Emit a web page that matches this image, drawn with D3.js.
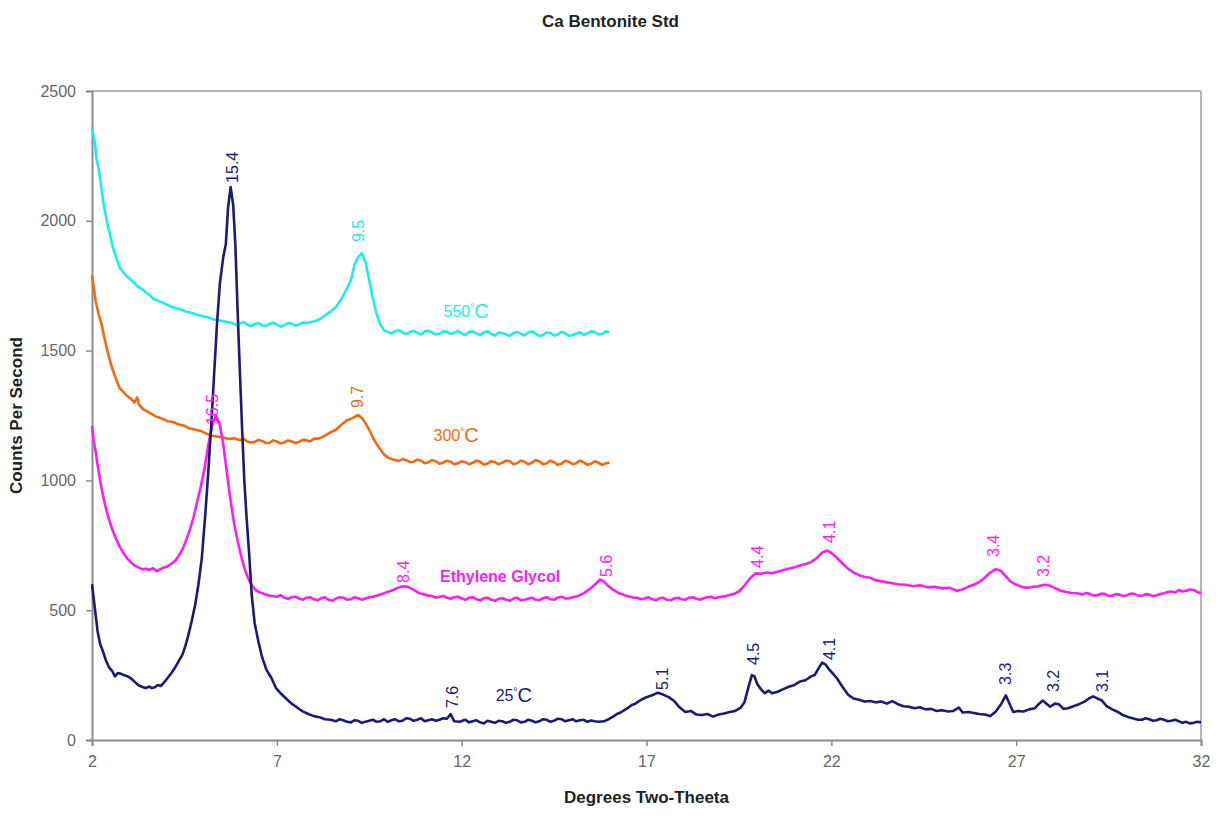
<!DOCTYPE html>
<html>
<head>
<meta charset="utf-8">
<script src="https://cdn.jsdelivr.net/npm/d3@7"></script>
<style>
  body { margin: 0; background: #fff; }
  text { font-family: Arial, "Liberation Sans", sans-serif; }
</style>
</head>
<body>
<svg id="chart"></svg>
<script>
// 2-theta (deg), counts per second
var s25 = [
  [2.00,600],[2.05,540],[2.10,480],[2.15,420],[2.22,370],[2.30,340],[2.38,305],[2.46,280],[2.55,265],[2.62,245],
  [2.70,258],[2.78,255],[2.86,250],[2.95,246],[3.05,238],[3.15,225],[3.25,212],[3.35,205],[3.45,200],[3.55,206],
  [3.62,200],[3.70,203],[3.78,212],[3.86,208],[3.95,222],[4.05,240],[4.15,258],[4.25,280],[4.35,305],[4.45,330],
  [4.52,360],[4.60,400],[4.70,460],[4.79,520],[4.88,600],[4.97,700],[5.06,860],[5.14,1020],[5.22,1200],[5.30,1400],
  [5.38,1600],[5.46,1760],[5.55,1860],[5.62,1910],[5.68,2050],[5.75,2130],[5.82,2060],[5.88,1900],[5.94,1650],[6.00,1420],
  [6.06,1200],[6.12,1000],[6.18,860],[6.25,720],[6.32,560],[6.40,450],[6.50,380],[6.60,320],[6.72,270],[6.85,240],
  [6.98,200],[7.10,180],[7.25,160],[7.40,140],[7.55,125],[7.70,110],[7.85,100],[8.00,92],[8.15,88],[8.30,80],
  [8.45,78],[8.60,72],[8.70,80],[8.80,76],[8.90,70],[9.00,68],[9.10,76],[9.20,74],[9.30,66],[9.40,70],[9.50,74],[9.60,78],[9.70,70],[9.80,72],[9.90,80],[10.00,70],[10.10,76],[10.20,80],
  [10.30,72],[10.40,74],[10.50,84],[10.60,82],[10.70,74],[10.80,78],[10.90,84],[11.00,72],[11.10,76],[11.20,80],[11.30,74],[11.40,78],[11.50,84],[11.60,82],[11.70,100],[11.80,72],[11.95,70],
  [12.05,76],[12.10,78],[12.20,68],[12.30,72],[12.40,76],[12.50,68],[12.60,64],[12.70,74],[12.80,70],[12.90,66],[13.00,74],[13.10,72],[13.20,66],[13.30,70],[13.40,78],[13.50,76],[13.60,68],[13.70,70],[13.80,78],[13.90,74],
  [14.00,68],[14.10,72],[14.20,80],[14.30,78],[14.40,70],[14.50,74],[14.60,82],[14.70,80],[14.80,72],[14.90,76],[15.00,80],[15.10,72],[15.20,76],[15.30,78],[15.40,70],[15.50,75],[15.60,72],[15.70,70],[15.85,72],
  [16.00,82],[16.10,90],[16.20,100],[16.30,106],[16.40,115],[16.50,124],[16.60,135],[16.70,140],[16.80,150],[16.90,158],[17.00,165],[17.15,172],[17.30,182],[17.45,175],[17.60,165],
  [17.75,150],[17.90,125],[18.05,108],[18.20,112],[18.35,98],[18.50,96],[18.65,100],[18.80,90],[18.95,98],[19.10,102],
  [19.25,108],[19.40,112],[19.55,125],[19.65,145],[19.75,200],[19.85,250],[19.92,245],[20.00,215],[20.10,195],[20.20,180],
  [20.30,190],[20.40,180],[20.55,186],[20.70,196],[20.85,205],[21.00,212],[21.15,225],[21.30,230],[21.45,245],[21.55,250],
  [21.65,275],[21.75,298],[21.85,290],[21.95,270],[22.05,255],[22.15,238],[22.30,205],[22.45,175],[22.60,160],[22.75,155],
  [22.90,148],[23.05,150],[23.20,145],[23.35,148],[23.50,140],[23.65,150],[23.80,138],[23.95,130],[24.10,128],[24.25,122],
  [24.40,126],[24.55,118],[24.70,120],[24.85,112],[25.00,115],[25.15,110],[25.30,112],[25.45,125],[25.55,106],[25.70,108],
  [25.85,104],[26.00,100],[26.15,98],[26.30,92],[26.45,110],[26.60,140],[26.72,172],[26.82,140],[26.92,108],[27.05,112],
  [27.20,110],[27.35,118],[27.50,122],[27.62,140],[27.72,152],[27.82,140],[27.92,128],[28.05,140],[28.15,138],[28.28,120],
  [28.40,122],[28.55,130],[28.70,138],[28.85,148],[28.97,160],[29.08,168],[29.20,160],[29.32,152],[29.45,130],[29.60,118],
  [29.75,108],[29.90,95],[30.05,88],[30.20,82],[30.30,78],[30.40,78],[30.50,84],[30.60,80],[30.70,74],[30.80,76],[30.90,82],[31.00,78],[31.10,72],[31.20,74],[31.30,78],[31.40,72],
  [31.50,66],[31.60,70],[31.70,64],[31.80,66],[31.90,70],[32.00,68]
];

var sGlycol = [
  [2.00,1210],[2.05,1150],[2.10,1110],[2.15,1060],[2.22,1000],[2.30,940],[2.38,890],[2.46,850],[2.55,810],[2.65,775],
  [2.75,745],[2.85,720],[2.95,700],[3.05,685],[3.15,672],[3.25,665],[3.35,658],[3.45,660],[3.55,655],[3.65,662],
  [3.75,650],[3.85,658],[3.95,665],[4.05,668],[4.15,680],[4.25,690],[4.35,710],[4.45,735],[4.55,770],[4.65,810],
  [4.75,860],[4.85,920],[4.95,980],[5.05,1050],[5.15,1140],[5.25,1210],[5.35,1250],[5.45,1220],[5.55,1140],[5.65,1030],
  [5.75,920],[5.85,830],[5.95,760],[6.05,700],[6.15,650],[6.25,615],[6.35,590],[6.45,575],[6.55,568],[6.70,560],
  [6.85,555],[7.00,552],[7.10,558],[7.20,548],[7.30,544],[7.40,550],[7.50,552],[7.60,545],[7.70,540],[7.80,548],[7.90,550],[8.00,542],[8.10,538],[8.20,546],[8.30,550],[8.40,540],[8.50,536],[8.60,545],
  [8.70,550],[8.80,548],[8.90,540],[9.00,542],[9.10,550],[9.20,546],[9.30,540],[9.40,545],[9.50,550],[9.60,552],[9.70,556],[9.80,560],[9.95,568],[10.10,575],[10.25,585],[10.40,592],
  [10.55,590],[10.70,578],[10.85,566],[11.00,560],[11.10,556],[11.20,555],[11.30,548],[11.40,552],[11.50,555],[11.60,548],[11.70,544],[11.80,550],[11.90,552],[12.00,545],[12.10,540],[12.20,548],
  [12.30,550],[12.40,542],[12.50,538],[12.60,546],[12.70,548],[12.80,540],[12.90,536],[13.00,544],[13.10,546],[13.20,540],[13.30,536],[13.40,545],[13.50,548],[13.60,538],[13.70,540],[13.80,544],[13.90,548],[14.00,540],[14.10,538],[14.20,546],
  [14.30,550],[14.40,542],[14.50,540],[14.60,548],[14.70,552],[14.80,545],[14.90,546],[15.00,550],[15.15,555],[15.30,565],[15.45,580],[15.60,598],[15.75,618],[15.85,610],
  [15.95,595],[16.10,578],[16.25,566],[16.40,558],[16.55,552],[16.65,548],[16.75,548],[16.85,542],[16.95,545],[17.05,550],[17.15,542],[17.25,538],[17.35,546],[17.45,548],[17.55,540],
  [17.65,538],[17.75,545],[17.85,548],[17.95,542],[18.05,540],[18.15,548],[18.25,550],[18.35,544],[18.45,540],[18.55,546],[18.65,550],[18.75,552],[18.85,546],[18.95,550],[19.15,555],[19.35,562],[19.50,572],
  [19.65,595],[19.80,622],[19.95,642],[20.10,640],[20.25,645],[20.40,642],[20.55,648],[20.70,655],[20.85,660],[21.00,665],
  [21.15,672],[21.30,678],[21.45,685],[21.60,700],[21.75,722],[21.90,730],[22.00,720],[22.15,702],[22.30,680],[22.45,660],
  [22.60,645],[22.75,635],[22.90,628],[23.05,625],[23.20,615],[23.40,610],[23.60,605],[23.80,600],[24.00,598],[24.20,592],
  [24.40,596],[24.60,588],[24.80,590],[25.00,584],[25.20,586],[25.40,575],[25.55,580],[25.70,590],[25.85,598],[26.00,608],
  [26.15,625],[26.30,645],[26.45,658],[26.58,652],[26.72,630],[26.85,610],[27.00,598],[27.15,590],[27.30,586],[27.45,590],
  [27.60,592],[27.75,598],[27.90,595],[28.05,585],[28.20,575],[28.35,570],[28.50,566],[28.65,565],[28.80,560],[28.90,566],[29.00,562],
  [29.10,556],[29.20,558],[29.30,564],[29.40,562],[29.50,555],[29.60,556],[29.70,562],[29.80,560],[29.90,554],[30.00,558],[30.10,564],[30.20,562],[30.30,556],[30.40,555],[30.50,562],[30.60,560],[30.70,554],[30.80,558],[30.90,562],[31.00,565],
  [31.10,570],[31.20,572],[31.30,568],[31.40,578],[31.50,572],[31.60,575],[31.70,580],[31.80,578],[31.90,570],[32.00,565]
];

var s300 = [
  [2.00,1790],[2.05,1740],[2.10,1690],[2.18,1640],[2.26,1600],[2.35,1540],[2.45,1480],[2.55,1430],[2.65,1390],[2.75,1355],
  [2.85,1340],[2.95,1325],[3.05,1315],[3.15,1300],[3.22,1320],[3.28,1290],[3.38,1275],[3.50,1265],[3.62,1255],[3.75,1245],
  [3.90,1238],[4.05,1228],[4.20,1225],[4.35,1215],[4.50,1210],[4.65,1200],[4.80,1195],[4.95,1190],[5.10,1180],[5.25,1172],
  [5.40,1168],[5.55,1165],[5.70,1160],[5.85,1162],[6.00,1155],[6.10,1160],[6.20,1150],[6.30,1146],[6.40,1148],[6.50,1156],[6.60,1152],[6.70,1144],[6.80,1145],[6.90,1154],[7.00,1150],
  [7.10,1142],[7.20,1146],[7.30,1154],[7.40,1150],[7.50,1144],[7.60,1148],[7.70,1156],[7.80,1155],[7.90,1150],[8.00,1160],[8.15,1162],[8.30,1172],[8.45,1185],[8.60,1195],[8.75,1215],
  [8.90,1232],[9.05,1240],[9.20,1252],[9.30,1240],[9.40,1220],[9.50,1195],[9.60,1165],[9.70,1140],[9.80,1120],[9.90,1100],
  [10.00,1088],[10.15,1080],[10.30,1075],[10.40,1082],[10.50,1078],[10.60,1070],[10.70,1072],[10.80,1080],[10.90,1076],[11.00,1066],[11.10,1070],[11.20,1078],[11.30,1074],[11.40,1064],[11.50,1068],[11.60,1076],[11.70,1072],
  [11.80,1062],[11.90,1066],[12.00,1074],[12.10,1070],[12.20,1062],[12.30,1068],[12.40,1076],[12.50,1072],[12.60,1060],[12.70,1065],[12.80,1074],[12.90,1070],[13.00,1062],[13.10,1068],[13.20,1076],[13.30,1074],[13.40,1062],[13.50,1066],[13.60,1076],[13.70,1072],
  [13.80,1062],[13.90,1068],[14.00,1078],[14.10,1074],[14.20,1062],[14.30,1066],[14.40,1076],[14.50,1070],[14.60,1060],[14.70,1064],[14.80,1076],[14.90,1072],[15.00,1062],[15.10,1066],[15.20,1076],[15.30,1070],[15.40,1060],[15.50,1064],[15.60,1074],[15.70,1068],
  [15.80,1060],[15.90,1066],[16.00,1068]
];

var s550 = [
  [2.00,2360],[2.04,2330],[2.08,2300],[2.12,2240],[2.18,2200],[2.25,2130],[2.32,2060],[2.40,2000],[2.48,1950],[2.56,1900],
  [2.65,1860],[2.75,1820],[2.85,1800],[2.95,1785],[3.05,1772],[3.15,1760],[3.25,1745],[3.35,1738],[3.45,1725],[3.55,1715],
  [3.65,1700],[3.75,1695],[3.85,1688],[3.95,1682],[4.10,1672],[4.25,1665],[4.40,1658],[4.55,1650],[4.70,1645],[4.85,1638],
  [5.00,1632],[5.15,1628],[5.30,1620],[5.45,1616],[5.60,1612],[5.80,1606],[5.90,1598],[6.00,1604],[6.10,1610],[6.20,1600],[6.30,1594],[6.40,1602],[6.50,1606],[6.60,1598],
  [6.70,1594],[6.80,1602],[6.90,1608],[7.00,1600],[7.10,1592],[7.20,1598],[7.30,1606],[7.40,1604],[7.50,1596],[7.60,1600],[7.70,1608],[7.80,1606],[8.00,1612],[8.15,1620],[8.30,1635],[8.45,1650],
  [8.60,1668],[8.75,1700],[8.90,1740],[9.00,1770],[9.10,1830],[9.20,1860],[9.30,1875],[9.40,1840],[9.50,1770],[9.60,1700],
  [9.70,1640],[9.80,1600],[9.90,1578],[10.00,1572],[10.10,1566],[10.20,1575],[10.30,1578],[10.40,1570],[10.50,1564],[10.60,1572],[10.70,1576],[10.80,1568],[10.90,1562],[11.00,1574],[11.10,1576],[11.20,1570],
  [11.30,1562],[11.40,1565],[11.50,1574],[11.60,1572],[11.70,1564],[11.80,1568],[11.90,1576],[12.00,1566],[12.10,1560],[12.20,1572],[12.30,1574],[12.40,1566],[12.50,1560],[12.60,1570],[12.70,1574],[12.80,1564],[12.90,1558],[13.00,1570],[13.10,1568],[13.20,1562],
  [13.30,1556],[13.40,1568],[13.50,1572],[13.60,1564],[13.70,1558],[13.80,1570],[13.90,1574],[14.00,1566],[14.10,1556],[14.20,1560],[14.30,1570],[14.40,1568],[14.50,1558],[14.60,1562],[14.70,1572],[14.80,1566],[14.90,1556],[15.00,1560],[15.10,1566],[15.20,1570],
  [15.30,1560],[15.40,1566],[15.50,1574],[15.60,1572],[15.70,1562],[15.80,1564],[15.90,1574],[16.00,1570]
];

// d-spacing labels: text, 2-theta, counts where the text starts
var peaks25 = [["15.4",5.79,2146],["7.6",11.74,123],["5.1",17.42,193],["4.5",19.88,289],["4.1",21.94,308],
               ["3.3",26.70,212],["3.2",28.00,185],["3.1",29.32,185]];
var peaksGlycol = [["16.5",5.25,1213],["8.4",10.41,605],["5.6",15.90,628],["4.4",19.99,663],["4.1",21.94,759],
                   ["3.4",26.37,705],["3.2",27.72,628]];
var peaks300 = [["9.7",9.17,1279]];
var peaks550 = [["9.5",9.19,1918]];

var seriesNames = [["550", 12.12, 1652], ["300", 11.85, 1175], ["Ethylene Glycol", 13.04, 632], ["25", 13.41, 173]];

var xTicks = [2, 7, 12, 17, 22, 27, 32];
var yTicks = [0, 500, 1000, 1500, 2000, 2500];

var width = 1221, height = 824,
    margin = {top: 91, right: 20, bottom: 84, left: 92},
    w = width - margin.left - margin.right,
    h = height - margin.top - margin.bottom;

var colors = {s25: "#1b1b74", glycol: "#fa1ef4", s300: "#f5680f", s550: "#1eecec"};

var svg = d3.select("#chart").attr("width", width).attr("height", height);

var x = d3.scaleLinear().domain([2, 32]).range([0, w]);
var y = d3.scaleLinear().domain([0, 2500]).range([h, 0]);

svg.append("text")
    .attr("x", width / 2).attr("y", 27)
    .attr("text-anchor", "middle")
    .style("font-size", "17px").style("font-weight", "bold").style("fill", "#222")
    .text("Ca Bentonite Std");

var g = svg.append("g").attr("transform", "translate(" + margin.left + "," + margin.top + ")");

// plot frame (top / right)
g.append("line").attr("x1", 0).attr("x2", w).attr("y1", 0).attr("y2", 0)
    .attr("stroke", "#b4b4b4").attr("stroke-width", 2);
g.append("line").attr("x1", w).attr("x2", w).attr("y1", 0).attr("y2", h)
    .attr("stroke", "#b4b4b4").attr("stroke-width", 2);

var xAxis = d3.axisBottom(x).tickValues(xTicks).tickSize(6).tickPadding(10);
var yAxis = d3.axisLeft(y).tickValues(yTicks).tickSize(6).tickPadding(10).tickFormat(d3.format("d"));

var gx = g.append("g").attr("transform", "translate(0," + h + ")").call(xAxis);
var gy = g.append("g").call(yAxis);

[gx, gy].forEach(function(a) {
    a.select(".domain").attr("stroke", "#8c8c8c").attr("stroke-width", 2);
    a.selectAll(".tick line").attr("stroke", "#8c8c8c").attr("stroke-width", 1.5);
    a.selectAll(".tick text").style("font-size", "16px").style("fill", "#666")
        .style("font-family", "Arial, 'Liberation Sans', sans-serif");
});

svg.append("text")
    .attr("x", margin.left + w / 2).attr("y", 803)
    .attr("text-anchor", "middle")
    .style("font-size", "17px").style("font-weight", "bold").style("fill", "#222")
    .text("Degrees Two-Theeta");

svg.append("text")
    .attr("transform", "translate(22," + (margin.top + h / 2) + ") rotate(-90)")
    .attr("text-anchor", "middle")
    .style("font-size", "17px").style("font-weight", "bold").style("fill", "#222")
    .text("Counts Per Second");

var line = d3.line()
    .x(function(d){ return x(d[0]); })
    .y(function(d){ return y(d[1]); });

var series = [
    {data: s550, color: colors.s550, peaks: peaks550},
    {data: s300, color: colors.s300, peaks: peaks300},
    {data: sGlycol, color: colors.glycol, peaks: peaksGlycol},
    {data: s25, color: colors.s25, peaks: peaks25}
];

series.forEach(function(s) {
    g.append("path")
        .datum(s.data)
        .attr("d", line)
        .attr("fill", "none")
        .attr("stroke", s.color)
        .attr("stroke-width", 2.6)
        .attr("stroke-linejoin", "round");
});

series.forEach(function(s) {
    g.selectAll(null)
        .data(s.peaks)
        .enter().append("text")
        .attr("transform", function(d){ return "translate(" + x(d[1]) + "," + y(d[2]) + ") rotate(-90)"; })
        .attr("dy", "0.36em")
        .style("font-size", "16px")
        .style("fill", s.color)
        .text(function(d){ return d[0]; });
});

// series names
var nameColors = [colors.s550, colors.s300, colors.glycol, colors.s25];
seriesNames.forEach(function(n, i) {
    var t = g.append("text")
        .attr("x", x(n[1])).attr("y", y(n[2]))
        .attr("dy", "0.35em")
        .attr("text-anchor", "middle")
        .style("fill", nameColors[i]);
    if (n[0] === "Ethylene Glycol") {
        t.style("font-size", "16px").style("font-weight", "bold").text(n[0]);
    } else {
        t.append("tspan").style("font-size", "16px").text(n[0]);
        t.append("tspan").style("font-size", "10px").attr("dy", "-0.6em").text("°");
        t.append("tspan").style("font-size", "20px").attr("dy", "0.35em").text("C");
    }
});
</script>
</body>
</html>
